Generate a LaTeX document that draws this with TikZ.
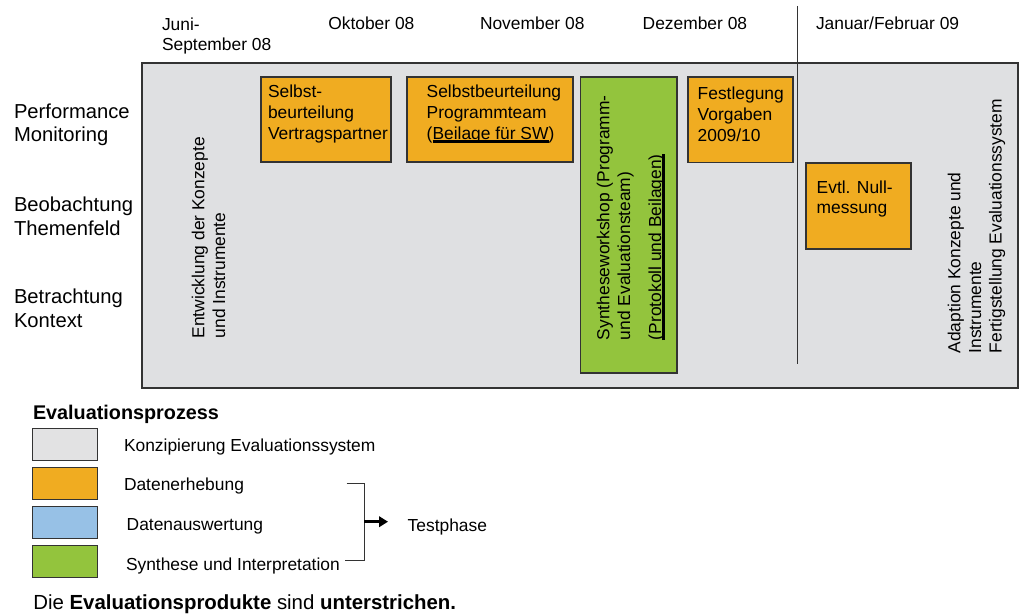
\documentclass[tikz,border=0pt]{standalone}
\usepackage{fontspec}
\setmainfont{Liberation Sans}
\usetikzlibrary{arrows.meta}

\definecolor{panelgray}{HTML}{DFE0E2}
\definecolor{swatchgray}{HTML}{E2E2E3}
\definecolor{collect}{HTML}{F0AC21}
\definecolor{synth}{HTML}{93C43D}
\definecolor{analyse}{HTML}{97C1E6}
\definecolor{edge}{HTML}{333333}

% thick underline for the evaluation products
\newsavebox\ulbox
\newcommand\thickul[1]{\sbox\ulbox{#1}\rlap{\rule[-3.9pt]{\wd\ulbox}{2.6pt}}\usebox\ulbox}

\tikzset{
  txt/.style={font=\fontsize{17.4}{20.7}\selectfont, inner sep=0pt, outer sep=0pt, align=left, text=black},
  rowlabel/.style={font=\fontsize{20.2}{23.5}\selectfont, inner sep=0pt, outer sep=0pt, align=left, text=black},
  vtxt/.style={txt, rotate=90, anchor=north west},
  panel/.style={draw=edge, line width=1.2pt, fill=panelgray, inner sep=0pt, outer sep=0pt, anchor=north west},
  actbox/.style={draw=edge, line width=1.1pt, inner sep=0pt, outer sep=0pt, anchor=north west},
  swatch/.style={draw=edge, line width=0.9pt, inner sep=0pt, outer sep=0pt, anchor=north west,
    minimum width=65pt, minimum height=32pt},
  bracket/.style={draw=edge, line width=1pt},
}

\begin{document}
\begin{tikzpicture}[x=1pt, y=-1pt]
\useasboundingbox (0,0) rectangle (1019,615);

% time line header
\node[txt, anchor=north west] (mJun) at (162,17.5) {Juni-\\September 08};
\node[txt, anchor=base west] (mOkt) at (328.3,30) {Oktober 08};
\node[txt, anchor=base west] (mNov) at (480,30) {November 08};
\node[txt, anchor=base west] (mDez) at (642.7,30) {Dezember 08};
\node[txt, anchor=base west] (mJan) at (816,30) {Januar/Februar 09};

% background panel: conception of the evaluation system
\node[panel, minimum width=876pt, minimum height=325pt] (panel) at (142,63) {};

% separator between test phase and adaption
\coordinate (sepTop) at (797.7,6);
\coordinate (sepBot) at (797.7,364);
\draw[edge, line width=1.2pt] (sepTop) -- (sepBot);

% row labels
\node[rowlabel, anchor=north west] (rPM) at (14,103.7) {Performance\\Monitoring};
\node[rowlabel, anchor=north west] (rBT) at (14,197.1) {Beobachtung\\Themenfeld};
\node[rowlabel, anchor=north west] (rBK) at (14,289.1) {Betrachtung\\Kontext};

% activities
\node[vtxt] (dev) at (191.7,338.3) {Entwicklung der Konzepte\\und Instrumente};

\node[actbox, fill=collect, minimum width=130pt, minimum height=85pt] (selfVP) at (261,77) {};
\node[txt, anchor=north west] (selfVPt) at (268,85) {Selbst-\\beurteilung\\Vertragspartner};

\node[actbox, fill=collect, minimum width=166pt, minimum height=85pt] (selfPT) at (407,77) {};
\node[txt, anchor=north west] (selfPTt) at (426.7,85) {Selbstbeurteilung\\Programmteam\\(\thickul{Beilage für SW})};

\node[actbox, fill=synth, minimum width=96.5pt, minimum height=296pt] (syn) at (580.5,77) {};
\node[vtxt] (synt) at (596.7,340) {Syntheseworkshop (Programm-\\und Evaluationsteam)\\[10.3pt]\thickul{(Protokoll und Beilagen)}};

\node[actbox, fill=collect, minimum width=105pt, minimum height=85.5pt] (fix) at (688,77) {};
\node[txt, anchor=north west] (fixt) at (697.7,87.3) {Festlegung\\Vorgaben\\2009/10};

\node[actbox, fill=collect, minimum width=105pt, minimum height=86pt] (null) at (806,163) {};
\node[txt, anchor=north west] (nullt) at (816.7,180.6) {Evtl. Null-\\messung};

\node[vtxt] (adapt) at (947.7,353.3) {Adaption Konzepte und\\Instrumente\\Fertigstellung Evaluationssystem};

% legend
\node[txt, anchor=base west, font=\fontsize{19.8}{22}\selectfont\bfseries] (lgTitle) at (33,419) {Evaluationsprozess};

\node[swatch, fill=swatchgray] (sw1) at (32,428) {};
\node[swatch, fill=collect] (sw2) at (32,467) {};
\node[swatch, fill=analyse] (sw3) at (32,506) {};
\node[swatch, fill=synth] (sw4) at (32,545) {};

\node[txt, anchor=base west] (lg1) at (124,451.7) {Konzipierung Evaluationssystem};
\node[txt, anchor=base west] (lg2) at (124,490) {Datenerhebung};
\node[txt, anchor=base west] (lg3) at (126.7,530) {Datenauswertung};
\node[txt, anchor=base west] (lg4) at (126,570) {Synthese und Interpretation};

% bracket grouping the test phase
\coordinate (brTopL) at (346.7,483.3);
\coordinate (brTopR) at (364.3,483.3);
\coordinate (brBotR) at (364.3,560.7);
\coordinate (brBotL) at (345,560.7);
\coordinate (brMid) at (364.3,521.7);
\draw[bracket] (brTopL) -- (brTopR) -- (brBotR) -- (brBotL);

\node[txt, anchor=base west] (test) at (407.7,531.7) {Testphase};
\coordinate (arrEnd) at (388,521.7);
\draw[black, line width=2.8pt, -{Triangle[length=9pt, width=10.5pt]}] (brMid) -- (arrEnd);

% footnote
\node[txt, anchor=base west, font=\fontsize{20.4}{23}\selectfont] (note) at (33.3,609)
  {Die \textbf{Evaluationsprodukte} sind \textbf{unterstrichen.}};
\end{tikzpicture}
\end{document}
